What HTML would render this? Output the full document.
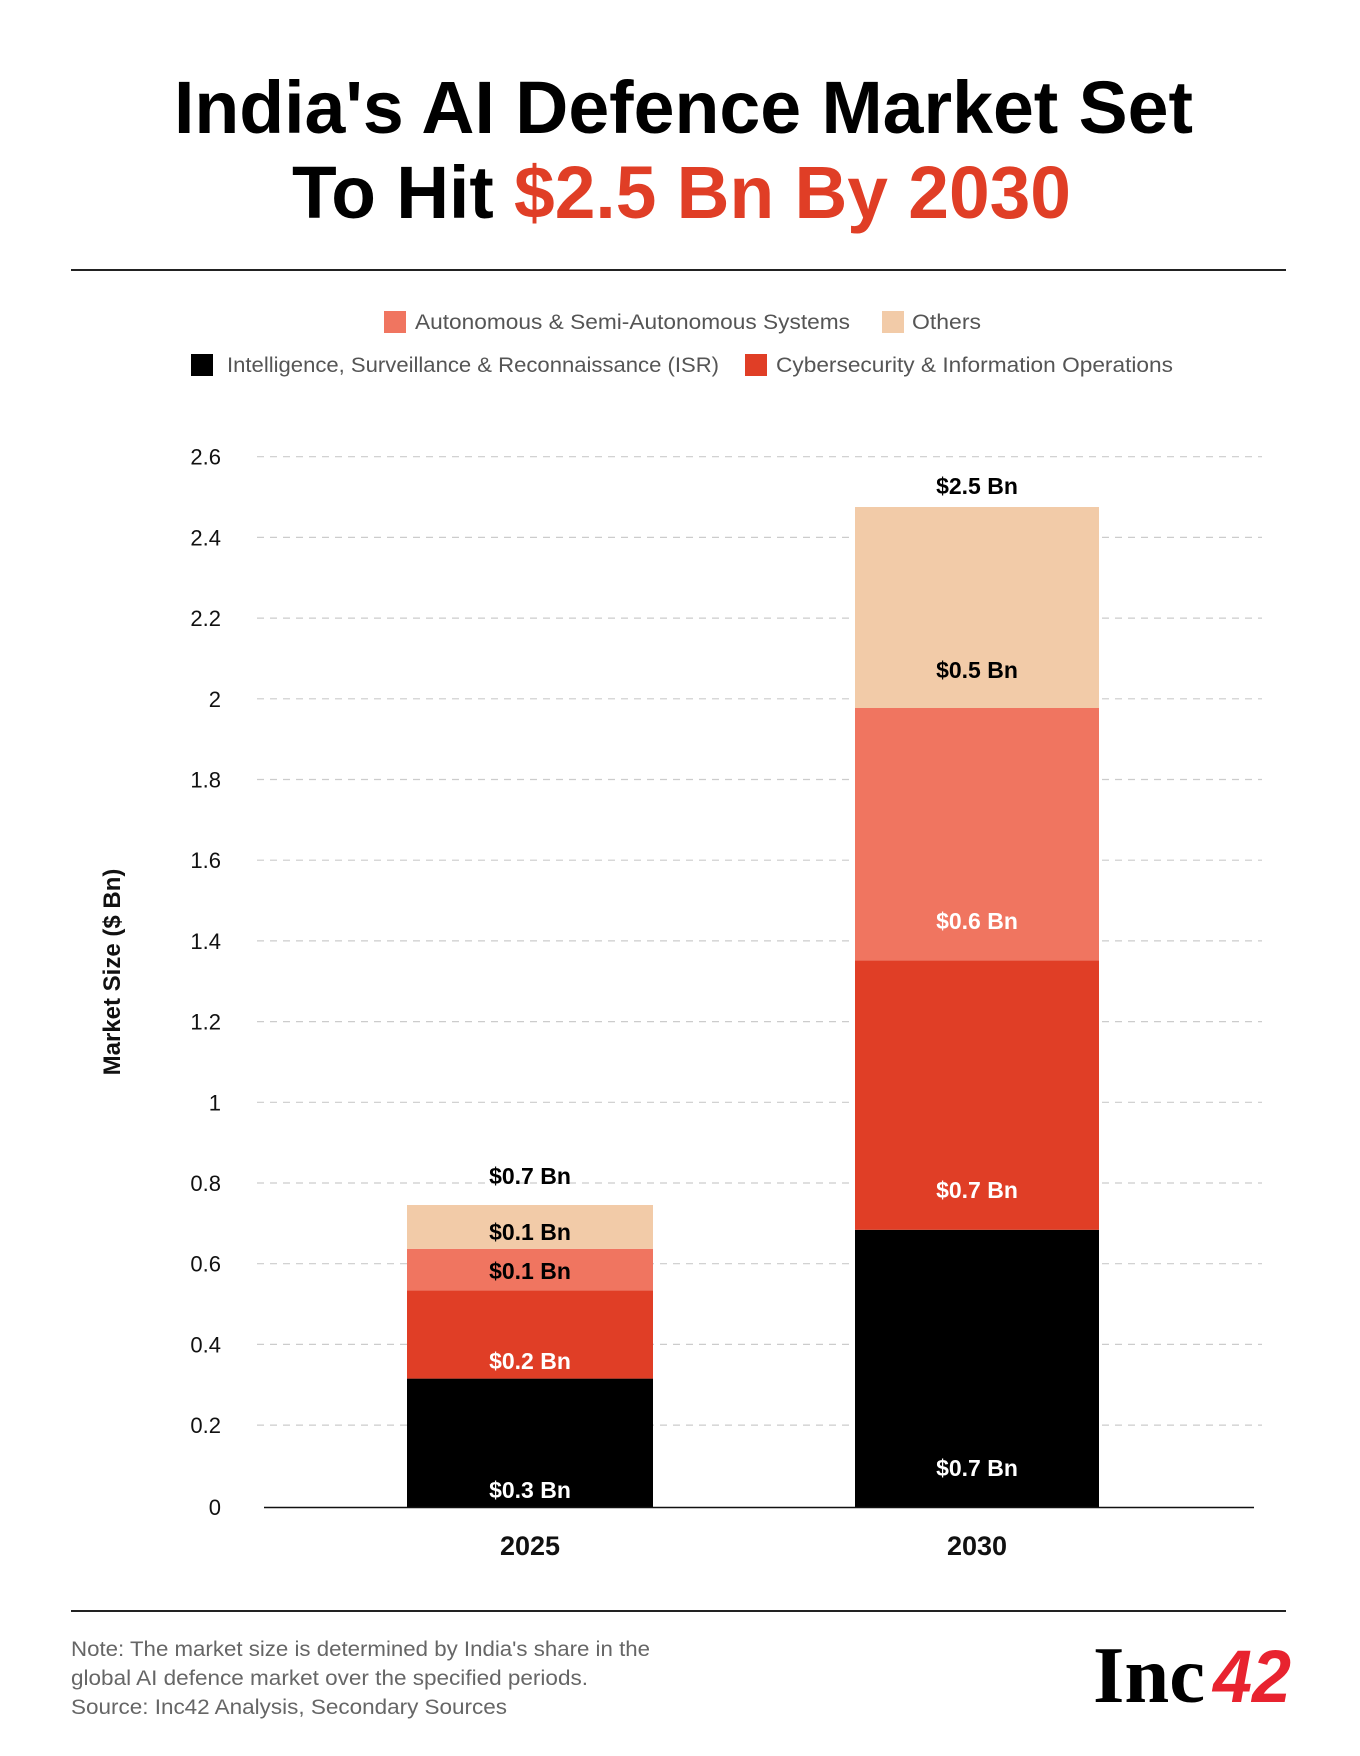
<!DOCTYPE html>
<html><head><meta charset="utf-8"><style>
html,body{margin:0;padding:0;background:#fff;}
svg{display:block;}
</style></head><body>
<svg width="1360" height="1756" viewBox="0 0 1360 1756" xmlns="http://www.w3.org/2000/svg" font-family="Liberation Sans, sans-serif">
<rect width="1360" height="1756" fill="#fff"/>
<!-- Title -->
<text x="174" y="133" font-size="74" font-weight="bold" textLength="1019" lengthAdjust="spacingAndGlyphs" fill="#000">India's AI Defence Market Set</text>
<text x="292" y="218" font-size="74" font-weight="bold" textLength="779" lengthAdjust="spacingAndGlyphs" fill="#000">To Hit <tspan fill="#e03e26">$2.5 Bn By 2030</tspan></text>
<line x1="71" y1="270" x2="1286" y2="270" stroke="#222" stroke-width="2"/>
<!-- Legend -->
<g font-size="21" fill="#555">
<rect x="384" y="311" width="22" height="22" fill="#f07560"/>
<text x="415" y="329" textLength="435" lengthAdjust="spacingAndGlyphs">Autonomous &amp; Semi-Autonomous Systems</text>
<rect x="882" y="311" width="22" height="22" fill="#f2cba8"/>
<text x="912" y="329" textLength="69" lengthAdjust="spacingAndGlyphs">Others</text>
<rect x="191" y="354" width="22" height="22" fill="#000"/>
<text x="227" y="372" textLength="492" lengthAdjust="spacingAndGlyphs">Intelligence, Surveillance &amp; Reconnaissance (ISR)</text>
<rect x="745" y="354" width="22" height="22" fill="#e03e26"/>
<text x="776" y="372" textLength="397" lengthAdjust="spacingAndGlyphs">Cybersecurity &amp; Information Operations</text>
</g>
<!-- Grid -->
<g stroke="#ccc" stroke-width="1.2" stroke-dasharray="7,6">
<line x1="257" y1="456.7" x2="1262" y2="456.7"/>
<line x1="257" y1="537.4" x2="1262" y2="537.4"/>
<line x1="257" y1="618.1" x2="1262" y2="618.1"/>
<line x1="257" y1="698.8" x2="1262" y2="698.8"/>
<line x1="257" y1="779.5" x2="1262" y2="779.5"/>
<line x1="257" y1="860.2" x2="1262" y2="860.2"/>
<line x1="257" y1="940.9" x2="1262" y2="940.9"/>
<line x1="257" y1="1021.6" x2="1262" y2="1021.6"/>
<line x1="257" y1="1102.3" x2="1262" y2="1102.3"/>
<line x1="257" y1="1183" x2="1262" y2="1183"/>
<line x1="257" y1="1263.7" x2="1262" y2="1263.7"/>
<line x1="257" y1="1344.4" x2="1262" y2="1344.4"/>
<line x1="257" y1="1425.1" x2="1262" y2="1425.1"/>
</g>
<g font-size="22" fill="#111" text-anchor="end">
<text x="221" y="464.7">2.6</text>
<text x="221" y="545.4">2.4</text>
<text x="221" y="626.1">2.2</text>
<text x="221" y="706.8">2</text>
<text x="221" y="787.5">1.8</text>
<text x="221" y="868.2">1.6</text>
<text x="221" y="948.9">1.4</text>
<text x="221" y="1029.6">1.2</text>
<text x="221" y="1110.3">1</text>
<text x="221" y="1191">0.8</text>
<text x="221" y="1271.7">0.6</text>
<text x="221" y="1352.4">0.4</text>
<text x="221" y="1433.1">0.2</text>
<text x="221" y="1515">0</text>
</g>
<text transform="translate(120,972) rotate(-90)" text-anchor="middle" font-size="24" font-weight="bold" fill="#111">Market Size ($ Bn)</text>
<!-- Bars 2025 -->
<rect x="407" y="1378.6" width="246" height="128.4" fill="#000"/>
<rect x="407" y="1290.3" width="246" height="88.3" fill="#e03e26"/>
<rect x="407" y="1248.8" width="246" height="41.5" fill="#f07560"/>
<rect x="407" y="1205" width="246" height="43.8" fill="#f2cba8"/>
<!-- Bars 2030 -->
<rect x="855" y="1229.8" width="244" height="277.2" fill="#000"/>
<rect x="855" y="960.3" width="244" height="269.5" fill="#e03e26"/>
<rect x="855" y="708" width="244" height="252.3" fill="#f07560"/>
<rect x="855" y="507" width="244" height="201" fill="#f2cba8"/>
<line x1="264" y1="1507.5" x2="1254" y2="1507.5" stroke="#111" stroke-width="1.5"/>
<!-- Labels -->
<g font-size="23" font-weight="bold" text-anchor="middle">
<text x="530" y="1184" fill="#000">$0.7 Bn</text>
<text x="530" y="1240" fill="#000">$0.1 Bn</text>
<text x="530" y="1279" fill="#000">$0.1 Bn</text>
<text x="530" y="1369" fill="#fff">$0.2 Bn</text>
<text x="530" y="1498" fill="#fff">$0.3 Bn</text>
<text x="977" y="494" fill="#000">$2.5 Bn</text>
<text x="977" y="678" fill="#000">$0.5 Bn</text>
<text x="977" y="929" fill="#fff">$0.6 Bn</text>
<text x="977" y="1198" fill="#fff">$0.7 Bn</text>
<text x="977" y="1476" fill="#fff">$0.7 Bn</text>
</g>
<g font-size="27" font-weight="bold" text-anchor="middle" fill="#111">
<text x="530" y="1555">2025</text>
<text x="977" y="1555">2030</text>
</g>
<line x1="71" y1="1611" x2="1286" y2="1611" stroke="#222" stroke-width="2"/>
<g font-size="21" fill="#666">
<text x="71" y="1656" textLength="579" lengthAdjust="spacingAndGlyphs">Note: The market size is determined by India's share in the</text>
<text x="71" y="1685" textLength="517" lengthAdjust="spacingAndGlyphs">global AI defence market over the specified periods.</text>
<text x="71" y="1714" textLength="436" lengthAdjust="spacingAndGlyphs">Source: Inc42 Analysis, Secondary Sources</text>
</g>
<text x="1093" y="1702" font-family="Liberation Serif, serif" font-weight="bold" font-size="80" textLength="112" lengthAdjust="spacingAndGlyphs" fill="#000">Inc</text>
<text x="1213" y="1702" font-weight="bold" font-style="italic" font-size="74" textLength="78" lengthAdjust="spacingAndGlyphs" fill="#e8232f">42</text>
</svg>
</body></html>
